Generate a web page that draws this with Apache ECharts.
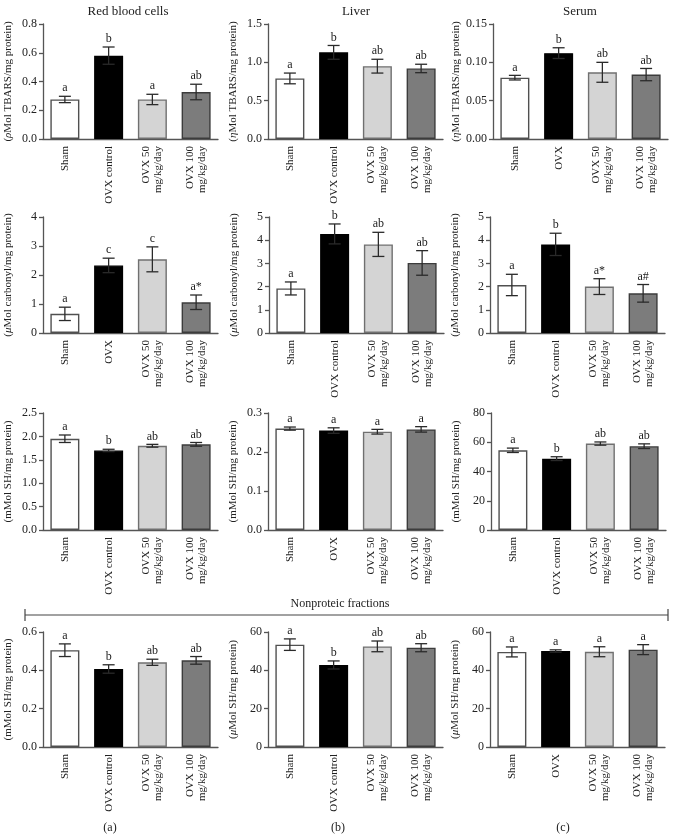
<!DOCTYPE html>
<html><head><meta charset="utf-8">
<script src="https://cdn.jsdelivr.net/npm/echarts@6/dist/echarts.min.js"></script>
<style>html,body{margin:0;padding:0;background:#fff}#c{width:676px;height:839px}</style>
</head><body><div id="c"></div>
<script>
// ---- categories ----
const catsControl = ['Sham', 'OVX control', 'OVX 50\nmg/kg/day', 'OVX 100\nmg/kg/day'];
const catsOvx = ['Sham', 'OVX', 'OVX 50\nmg/kg/day', 'OVX 100\nmg/kg/day'];

// ---- TBARS ----
const rbcTbarsMean = [0.275, 0.58, 0.275, 0.327];
const rbcTbarsErr = [0.022, 0.06, 0.036, 0.054];
const rbcTbarsLetters = ['a', 'b', 'a', 'ab'];
const liverTbarsMean = [0.79, 1.13, 0.95, 0.92];
const liverTbarsErr = [0.07, 0.09, 0.09, 0.055];
const liverTbarsLetters = ['a', 'b', 'ab', 'ab'];
const serumTbarsMean = [0.080, 0.112, 0.087, 0.084];
const serumTbarsErr = [0.003, 0.007, 0.013, 0.008];
const serumTbarsLetters = ['a', 'b', 'ab', 'ab'];

// ---- Carbonyl ----
const rbcCarbMean = [0.66, 2.33, 2.54, 1.06];
const rbcCarbErr = [0.23, 0.25, 0.43, 0.25];
const rbcCarbLetters = ['a', 'c', 'c', 'a*'];
const liverCarbMean = [1.92, 4.27, 3.82, 3.02];
const liverCarbErr = [0.28, 0.43, 0.52, 0.53];
const liverCarbLetters = ['a', 'b', 'ab', 'ab'];
const serumCarbMean = [2.07, 3.82, 2.0, 1.71];
const serumCarbErr = [0.46, 0.48, 0.34, 0.38];
const serumCarbLetters = ['a', 'b', 'a*', 'a#'];

// ---- Total SH ----
const rbcShMean = [1.95, 1.70, 1.80, 1.83];
const rbcShErr = [0.08, 0.025, 0.03, 0.04];
const rbcShLetters = ['a', 'b', 'ab', 'ab'];
const liverShMean = [0.260, 0.255, 0.252, 0.258];
const liverShErr = [0.004, 0.007, 0.006, 0.007];
const liverShLetters = ['a', 'a', 'a', 'a'];
const serumShMean = [54.5, 48.8, 59.1, 57.3];
const serumShErr = [1.5, 1.3, 1.1, 1.6];
const serumShLetters = ['a', 'b', 'ab', 'ab'];

// ---- Nonproteic SH ----
const rbcNpshMean = [0.505, 0.407, 0.442, 0.452];
const rbcNpshErr = [0.033, 0.022, 0.016, 0.02];
const rbcNpshLetters = ['a', 'b', 'ab', 'ab'];
const liverNpshMean = [53.4, 42.8, 52.5, 51.8];
const liverNpshErr = [3.0, 2.1, 2.8, 2.1];
const liverNpshLetters = ['a', 'b', 'ab', 'ab'];
const serumNpshMean = [49.6, 50.1, 49.7, 50.8];
const serumNpshErr = [2.6, 0.6, 2.6, 2.6];
const serumNpshLetters = ['a', 'a', 'a', 'a'];

// ---- axis scales (max, interval, decimals) ----
const axisMax = [0.8, 1.5, 0.15, 4, 5, 5, 2.5, 0.3, 80, 0.6, 60, 60];
const axisStep = [0.2, 0.5, 0.05, 1, 1, 1, 0.5, 0.1, 20, 0.2, 20, 20];
const axisDec = [1, 1, 2, 0, 0, 0, 1, 1, 0, 1, 0, 0];
const axisNames = [
  '({g|ρ}Mol TBARS/mg protein)', '({g|η}Mol TBARS/mg protein)', '({g|η}Mol TBARS/mg protein)',
  '({g|μ}Mol carbonyl/mg protein)', '({g|μ}Mol carbonyl/mg protein)', '({g|μ}Mol carbonyl/mg protein)',
  '(mMol SH/mg protein)', '(mMol SH/mg protein)', '(mMol SH/mg protein)',
  '(mMol SH/mg protein)', '({g|μ}Mol SH/mg protein)', '({g|μ}Mol SH/mg protein)'
];
const colTitles = ['Red blood cells', 'Liver', 'Serum'];

const means = [rbcTbarsMean, liverTbarsMean, serumTbarsMean, rbcCarbMean, liverCarbMean, serumCarbMean,
  rbcShMean, liverShMean, serumShMean, rbcNpshMean, liverNpshMean, serumNpshMean];
const errs = [rbcTbarsErr, liverTbarsErr, serumTbarsErr, rbcCarbErr, liverCarbErr, serumCarbErr,
  rbcShErr, liverShErr, serumShErr, rbcNpshErr, liverNpshErr, serumNpshErr];
const letters = [rbcTbarsLetters, liverTbarsLetters, serumTbarsLetters, rbcCarbLetters, liverCarbLetters, serumCarbLetters,
  rbcShLetters, liverShLetters, serumShLetters, rbcNpshLetters, liverNpshLetters, serumNpshLetters];
const cats = [catsControl, catsControl, catsOvx, catsOvx, catsControl, catsControl,
  catsControl, catsOvx, catsControl, catsControl, catsControl, catsOvx];

// ---- layout ----
const rowTop = [24, 217, 413, 632];
const rowH = [115, 116, 117, 115];
const colLeft = [[43, 268, 493], [43, 269, 490], [43, 268, 491], [43, 268, 490]];
const gridW = 175;

const FONT = '"Liberation Serif", "DejaVu Serif", serif';
const fills = ['#ffffff', '#000000', '#d4d4d4', '#7c7c7c'];
const borders = ['#505050', '#000000', '#707070', '#3c3c3c'];

const grids = [], xAxes = [], yAxes = [], series = [];
for (let i = 0; i < 12; i++) {
  const r = Math.floor(i / 3), c = i % 3;
  grids.push({ left: colLeft[r][c], top: rowTop[r], width: gridW, height: rowH[r] });
  xAxes.push({
    type: 'category', gridIndex: i, data: cats[i],
    axisLine: { lineStyle: { color: '#555', width: 1.3 } },
    axisTick: { show: false },
    axisLabel: { rotate: 90, interval: 0, margin: 7, color: '#222', fontFamily: FONT, fontSize: 11, lineHeight: 12 }
  });
  const dec = axisDec[i];
  yAxes.push({
    type: 'value', gridIndex: i, min: 0, max: axisMax[i], interval: axisStep[i],
    name: axisNames[i], nameLocation: 'middle', nameGap: 29,
    nameTextStyle: { color: '#222', fontFamily: FONT, fontSize: 11, rich: { g: { fontStyle: 'italic', fontFamily: FONT, fontSize: 11, color: '#222' } } },
    axisLine: { show: true, lineStyle: { color: '#555', width: 1.3 } },
    axisTick: { show: true, length: 4, lineStyle: { color: '#555', width: 1.3 } },
    splitLine: { show: false },
    axisLabel: { color: '#222', fontFamily: FONT, fontSize: 12, margin: 6, formatter: v => v.toFixed(dec) }
  });
  series.push({
    type: 'bar', xAxisIndex: i, yAxisIndex: i, barWidth: 29,
    data: means[i].map((v, k) => ({ value: v, itemStyle: { color: fills[k], borderColor: borders[k], borderWidth: 1.4 } })),
    silent: true, animation: false
  });
  const lets = letters[i];
  series.push({
    type: 'custom', xAxisIndex: i, yAxisIndex: i, z: 5, animation: false, silent: true,
    data: means[i].map((v, k) => [k, v, errs[i][k]]),
    renderItem: (params, api) => {
      const x = api.value(0), m = api.value(1), e = api.value(2);
      const t = api.coord([x, m + e]), b = api.coord([x, m - e]);
      const cx = t[0], hw = 6;
      const st = { stroke: '#2a2a2a', lineWidth: 1.3 };
      return {
        type: 'group', children: [
          { type: 'line', shape: { x1: cx, y1: t[1], x2: cx, y2: b[1] }, style: st },
          { type: 'line', shape: { x1: cx - hw, y1: t[1], x2: cx + hw, y2: t[1] }, style: st },
          { type: 'line', shape: { x1: cx - hw, y1: b[1], x2: cx + hw, y2: b[1] }, style: st },
          { type: 'text', style: { text: lets[params.dataIndex], x: cx, y: t[1] - 2, textAlign: 'center', textVerticalAlign: 'bottom', font: '12px ' + FONT, fill: '#222' } }
        ]
      };
    }
  });
}

const graphics = [];
const titleX = [128, 356, 580];
colTitles.forEach((t, k) => graphics.push({ type: 'text', x: titleX[k], y: 12, style: { text: t, textAlign: 'center', textVerticalAlign: 'middle', font: '13px ' + FONT, fill: '#222' } }));
// nonproteic bracket
graphics.push({ type: 'line', shape: { x1: 25, y1: 615, x2: 668, y2: 615 }, style: { stroke: '#444', lineWidth: 1.2 } });
graphics.push({ type: 'line', shape: { x1: 25, y1: 609, x2: 25, y2: 621 }, style: { stroke: '#444', lineWidth: 1.2 } });
graphics.push({ type: 'line', shape: { x1: 668, y1: 609, x2: 668, y2: 621 }, style: { stroke: '#444', lineWidth: 1.2 } });
graphics.push({ type: 'text', x: 340, y: 604, style: { text: 'Nonproteic fractions', textAlign: 'center', textVerticalAlign: 'middle', font: '12px ' + FONT, fill: '#222' } });
const panelTags = ['(a)', '(b)', '(c)'];
const tagX = [110, 338, 563];
panelTags.forEach((t, k) => graphics.push({ type: 'text', x: tagX[k], y: 828, style: { text: t, textAlign: 'center', textVerticalAlign: 'middle', font: '12px ' + FONT, fill: '#222' } }));

const chart = echarts.init(document.getElementById('c'), null, { renderer: 'canvas' });
chart.setOption({
  animation: false,
  backgroundColor: '#fff',
  grid: grids, xAxis: xAxes, yAxis: yAxes, series: series,
  graphic: graphics
});
</script>
</body></html>
